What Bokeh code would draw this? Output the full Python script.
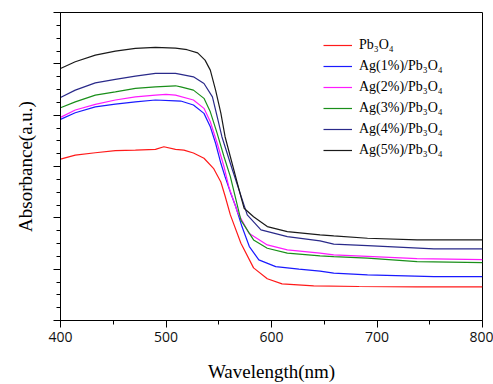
from bokeh.plotting import figure
from bokeh.models import (Range1d, SingleIntervalTicker, CustomJSTickFormatter,
                          Legend, LegendItem)
from bokeh.embed import file_html
from bokeh.resources import INLINE

# ---------------- data ----------------
wl_pb = [400, 414, 433, 452, 471, 490, 498, 509, 517, 526, 536, 545, 552, 556, 561, 571, 583, 596, 610, 640, 683, 738, 800]
ab_pb = [12.58, 12.89, 13.07, 13.23, 13.28, 13.34, 13.54, 13.34, 13.28, 13.05, 12.64, 11.86, 10.79, 9.70, 8.23, 6.02, 4.10, 3.25, 2.85, 2.70, 2.65, 2.62, 2.62]

wl_ag1 = [400, 414, 433, 452, 471, 490, 509, 514, 526, 536, 542, 547, 552, 556, 561, 566, 572, 579, 588, 604, 626, 646, 659, 691, 754, 800]
ab_ag1 = [15.67, 16.19, 16.65, 16.86, 17.04, 17.18, 17.12, 17.10, 16.79, 16.14, 15.10, 13.81, 12.25, 11.2, 10.0, 8.9, 7.32, 5.76, 4.72, 4.20, 4.0, 3.85, 3.69, 3.56, 3.42, 3.42]

wl_ag2 = [400, 414, 433, 452, 471, 490, 500, 509, 526, 536, 542, 548.5, 555, 559.5, 567.5, 578.6, 596, 615, 646, 659, 691, 738, 800]
ab_ag2 = [15.83, 16.40, 16.84, 17.18, 17.43, 17.56, 17.62, 17.56, 17.18, 16.53, 15.49, 13.81, 11.98, 10.43, 8.5, 6.80, 5.89, 5.50, 5.25, 5.12, 5.0, 4.82, 4.75]

wl_ag3 = [400, 414, 433, 452, 471, 490, 509, 514, 526, 536, 542, 548.5, 555, 561, 571, 583, 596, 615, 646, 659, 691, 738, 800]
ab_ag3 = [16.58, 17.04, 17.56, 17.82, 18.09, 18.21, 18.29, 18.21, 17.95, 17.31, 16.26, 14.58, 12.76, 11.21, 7.82, 6.28, 5.63, 5.25, 5.04, 4.98, 4.86, 4.59, 4.51]

wl_ag4 = [400, 414, 433, 452, 471, 490, 509, 514, 526, 536, 544, 548.5, 553, 556, 563, 577, 590, 615, 646, 659, 691, 754, 800]
ab_ag4 = [17.38, 17.95, 18.52, 18.79, 19.04, 19.25, 19.25, 19.18, 18.99, 18.47, 17.43, 15.88, 14.32, 13.54, 11.73, 8.23, 7.06, 6.54, 6.20, 5.95, 5.84, 5.58, 5.58]

wl_ag5 = [400, 414, 433, 452, 471, 490, 509, 520, 530, 537, 542, 547, 552, 556, 561, 566, 571, 574, 583, 596, 615, 646, 659, 691, 738, 800]
ab_ag5 = [19.64, 20.16, 20.68, 20.99, 21.20, 21.28, 21.22, 21.10, 20.85, 20.29, 19.51, 17.95, 16.16, 14.32, 12.76, 11.21, 9.65, 8.75, 8.09, 7.32, 6.93, 6.67, 6.59, 6.41, 6.28, 6.28]

labels = ["Pb\u2083O\u2084", "Ag(1%)/Pb\u2083O\u2084", "Ag(2%)/Pb\u2083O\u2084",
          "Ag(3%)/Pb\u2083O\u2084", "Ag(4%)/Pb\u2083O\u2084", "Ag(5%)/Pb\u2083O\u2084"]
colors = ["#ff1a1a", "#1a1aff", "#ff1aff", "#1a8f1a", "#2a2a8a", "#1a1a1a"]
series = [(wl_pb, ab_pb), (wl_ag1, ab_ag1), (wl_ag2, ab_ag2),
          (wl_ag3, ab_ag3), (wl_ag4, ab_ag4), (wl_ag5, ab_ag5)]

# ---------------- figure ----------------
p = figure(width=493, height=384, output_backend="svg", toolbar_location=None,
           x_range=Range1d(400, 800), y_range=Range1d(0, 24),
           min_border_left=60, min_border_right=11, min_border_top=12,
           min_border_bottom=64)
p.background_fill_color = "white"
p.border_fill_color = "white"
p.outline_line_color = "black"
p.outline_line_width = 1
p.xgrid.visible = False
p.ygrid.visible = False

items = []
for (x, y), c, lab in zip(series, colors, labels):
    r = p.line(x, y, line_color=c, line_width=1.2)
    items.append(LegendItem(label=lab, renderers=[r]))

# x axis
xa = p.xaxis[0]
xa.ticker = SingleIntervalTicker(interval=100, num_minor_ticks=2)
xa.axis_label = "Wavelength(nm)"
xa.axis_label_text_font = "Liberation Serif"
xa.axis_label_text_font_style = "normal"
xa.axis_label_text_font_size = "19px"
xa.axis_label_text_color = "black"
xa.axis_label_standoff = 16
xa.major_label_text_font = "Open Sans"
xa.major_label_text_font_size = "14px"
xa.major_label_text_color = "#111111"
xa.major_label_standoff = 4
xa.major_tick_in = 0
xa.major_tick_out = 7
xa.minor_tick_in = 0
xa.minor_tick_out = 4
xa.axis_line_color = "black"

# y axis
ya = p.yaxis[0]
ya.ticker = SingleIntervalTicker(interval=4, num_minor_ticks=4)
ya.formatter = CustomJSTickFormatter(code="return ''")
ya.axis_label = "Absorbance(a.u.)"
ya.axis_label_text_font = "Liberation Serif"
ya.axis_label_text_font_style = "normal"
ya.axis_label_text_font_size = "19px"
ya.axis_label_text_color = "black"
ya.axis_label_standoff = 18
ya.major_tick_in = 0
ya.major_tick_out = 7
ya.minor_tick_in = 0
ya.minor_tick_out = 4
ya.axis_line_color = "black"

legend = Legend(items=items, location=(263, 160), padding=0, margin=0,
                border_line_color=None, background_fill_alpha=0,
                glyph_width=29, glyph_height=20, label_height=20,
                label_standoff=7, spacing=1,
                label_text_font="Liberation Serif", label_text_font_size="14px",
                label_text_color="black")
p.add_layout(legend)

open("out.html", "w").write(file_html(p, INLINE))
